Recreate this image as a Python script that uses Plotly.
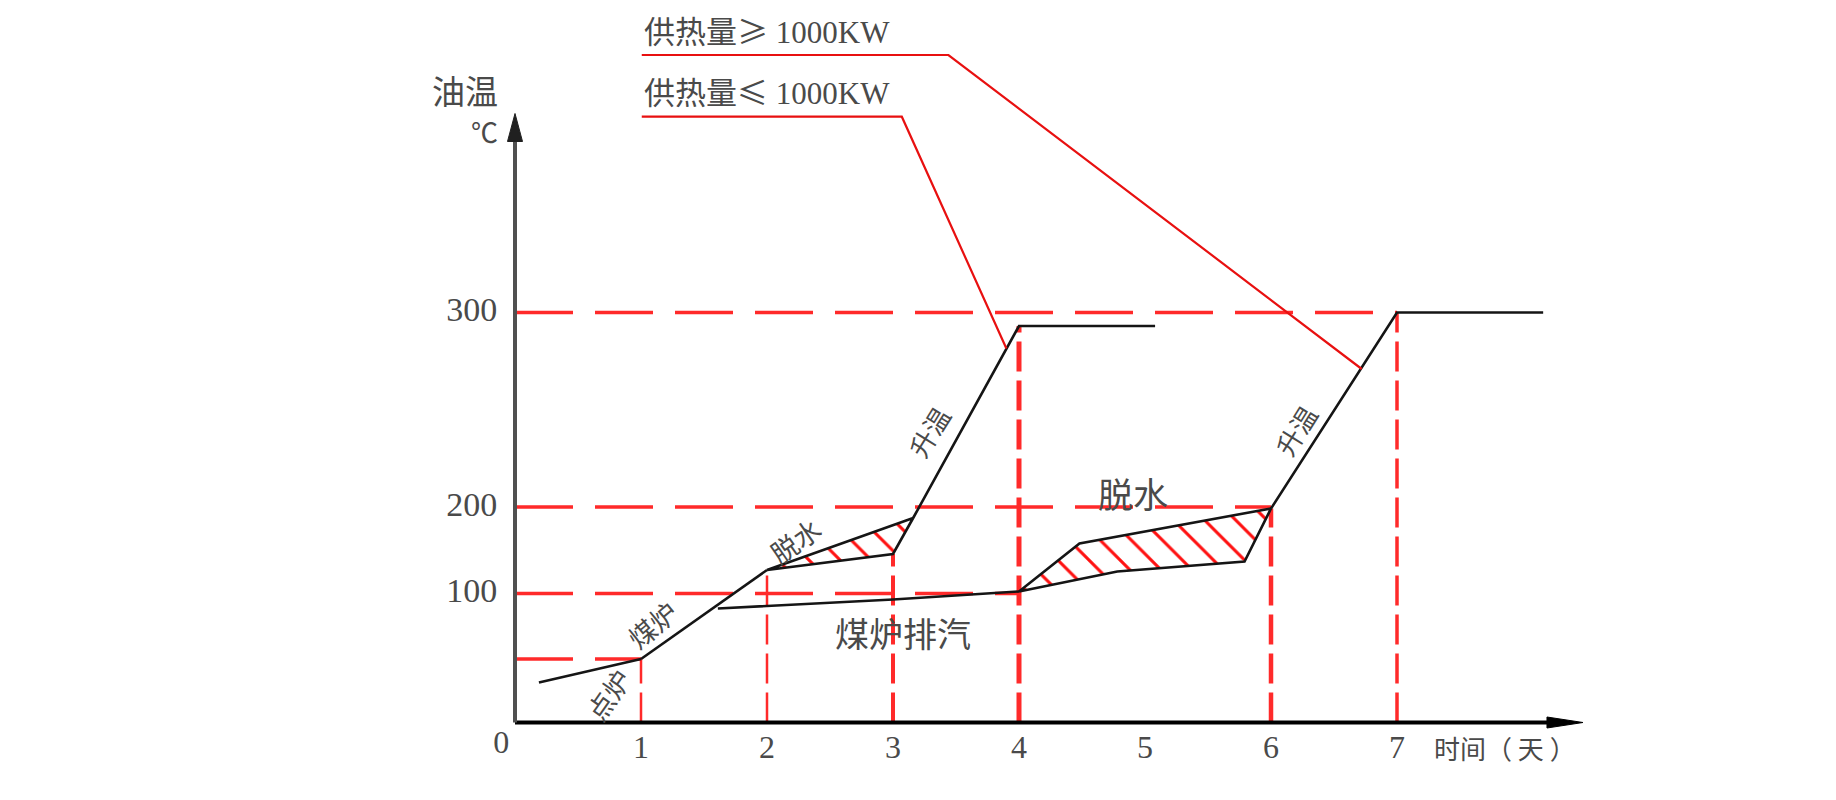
import plotly.graph_objects as go

# ---------------- data (schematic: x = days, y = drawing height of temperature levels) ----------------
day_ticks = [0, 1, 2, 3, 4, 5, 6, 7]
day_labels = ["0", "1", "2", "3", "4", "5", "6", "7"]
level_labels = ["100", "200", "300"]
level_pos = [129, 215.5, 410]
low_level = 63.5

ignite_x = [0.19, 1.0]
ignite_y = [40, 63.5]
coal_x = [1.0, 2.0]
coal_y = [63.5, 152.5]
dehyd1_x = [2.0, 3.16, 3.0, 2.13, 2.0]
dehyd1_y = [152.5, 204.5, 168.5, 154.5, 152.5]
heat1_x = [3.16, 4.0, 5.08]
heat1_y = [204.5, 396.5, 396.5]
exhaust_x = [1.61, 3.0, 4.0]
exhaust_y = [114, 123, 131]
dehyd2_x = [4.0, 4.48, 6.0, 5.79, 4.78, 4.0]
dehyd2_y = [131, 179, 214, 161, 151, 131]
heat2_x = [6.0, 7.0, 8.16]
heat2_y = [214, 410, 410]

lead_hi_x = [1.006, 3.44, 6.72]
lead_hi_y = [667.5, 667.5, 353.5]
lead_lo_x = [1.006, 3.07, 3.90]
lead_lo_y = [605.8, 605.8, 374]
lead_hi_cjk, lead_hi_num = "供热量≥", "1000KW"
lead_lo_cjk, lead_lo_num = "供热量≤", "1000KW"

hline_pos = [low_level, 129, 215.5, 410]
hline_end = [1, 4, 6, 7]
vline_days = [1, 2, 3, 4, 6, 7]
vline_top = [63.5, 152.5, 168.5, 396.5, 214, 410]
vline_width = [2.5, 2.5, 4, 5, 4.5, 3.5]

stage_labels = ["点炉", "煤炉", "脱水", "升温", "升温", "脱水", "煤炉排汽"]
stage_x = [0.74, 1.087, 2.22, 3.28, 6.19, 4.905, 3.08]
stage_y = [28, 98.5, 182.5, 291.5, 292.5, 230.5, 90.5]
stage_angle = [-55, -40, -35, -58, -58, 0, 0]
stage_size = [27, 27, 27, 26, 26, 35, 34]

x_axis_end = 8.476
y_axis_end = 609

# ---------------- styles ----------------
W, H = 1836, 800
X0_PX, Y0_PX, PX_PER_DAY = 515, 722.5, 126
RED = "#ff2a2a"
HATCH = "#ff1010"
LEAD = "#e81010"
BLACK = "#151515"
GREY_TXT = "#4a4a4a"
CJK = "Noto Sans CJK SC"
SERIF = "Liberation Serif"

fig = go.Figure()

def line(x, y, color, width, dash=None, **kw):
    fig.add_trace(go.Scatter(x=x, y=y, mode="lines", hoverinfo="skip", showlegend=False,
                             line=dict(color=color, width=width, dash=dash), **kw))

# dashed guide lines
for h, e in zip(hline_pos, hline_end):
    line([0, e], [h, h], RED, 3.5, "58px,22px")
for d, t, w in zip(vline_days, vline_top, vline_width):
    line([d, d], [0, t], RED, w, "30px,9px")

# hatched dehydration regions
for xs, ys in [(dehyd1_x, dehyd1_y), (dehyd2_x, dehyd2_y)]:
    fig.add_trace(go.Scatter(x=xs, y=ys, mode="lines", fill="toself", hoverinfo="skip", showlegend=False,
                             fillcolor="rgba(0,0,0,0)",
                             fillpattern=dict(shape="\\", fgcolor=HATCH, fgopacity=1, bgcolor="rgba(0,0,0,0)",
                                              size=22, solidity=0.14),
                             line=dict(color=BLACK, width=2.6)))

# black process curves
for xs, ys in [(ignite_x, ignite_y), (coal_x, coal_y), (heat1_x, heat1_y),
               (exhaust_x, exhaust_y), (heat2_x, heat2_y)]:
    line(xs, ys, BLACK, 2.6)

# red leader lines
line(lead_hi_x, lead_hi_y, LEAD, 2.2)
line(lead_lo_x, lead_lo_y, LEAD, 2.2)

# axes
line([0, x_axis_end - 0.2], [0, 0], "#000", 4)
line([0, 0], [0, y_axis_end - 20], "#505050", 4)
ux = 1.0 / PX_PER_DAY
fig.add_trace(go.Scatter(x=[x_axis_end, x_axis_end - 36 * ux, x_axis_end - 36 * ux, x_axis_end],
                         y=[0, 5.5, -5.5, 0], mode="lines", fill="toself", fillcolor="#000",
                         line=dict(color="#000", width=1), hoverinfo="skip", showlegend=False))
fig.add_trace(go.Scatter(x=[0, -7.5 * ux, 7.5 * ux, 0],
                         y=[y_axis_end, y_axis_end - 28, y_axis_end - 28, y_axis_end],
                         mode="lines", fill="toself", fillcolor="#202020",
                         line=dict(color="#202020", width=1), hoverinfo="skip", showlegend=False))

# tick labels
fig.add_trace(go.Scatter(x=[d if d else -0.11 for d in day_ticks], y=[-27 if d else -22 for d in day_ticks],
                         mode="text", text=day_labels, textfont=dict(family=SERIF, size=32, color=GREY_TXT),
                         hoverinfo="skip", showlegend=False))
fig.add_trace(go.Scatter(x=[-0.14] * len(level_pos), y=level_pos, mode="text", text=level_labels,
                         textposition="middle left", textfont=dict(family=SERIF, size=34, color=GREY_TXT),
                         hoverinfo="skip", showlegend=False))

def mixed(cjk, num):
    return cjk + "<span style='font-family:Liberation Serif'> " + num + "</span>"

ann = []
ann.append(dict(x=7.86, y=-24.5, text="时间（ 天 ）", font=dict(family=CJK, size=26, color=GREY_TXT)))
ann.append(dict(x=-0.4, y=632.5, text="油温", font=dict(family=CJK, size=33, color=GREY_TXT)))
ann.append(dict(x=-0.24, y=591.5, text="℃", font=dict(family=CJK, size=27, color=GREY_TXT)))
ann.append(dict(x=lead_hi_x[0], y=lead_hi_y[0] + 26, text=mixed(lead_hi_cjk, lead_hi_num), xanchor="left",
                font=dict(family=CJK, size=31, color=GREY_TXT)))
ann.append(dict(x=lead_lo_x[0], y=lead_lo_y[0] + 26, text=mixed(lead_lo_cjk, lead_lo_num), xanchor="left",
                font=dict(family=CJK, size=31, color=GREY_TXT)))
for t, x, y, a, s in zip(stage_labels, stage_x, stage_y, stage_angle, stage_size):
    ann.append(dict(x=x, y=y, text=t, textangle=a, font=dict(family=CJK, size=s, color=GREY_TXT)))
for a in ann:
    a.setdefault("showarrow", False)
    a.setdefault("xref", "x")
    a.setdefault("yref", "y")

fig.update_layout(
    width=W, height=H, autosize=False,
    margin=dict(l=0, r=0, t=0, b=0),
    paper_bgcolor="white", plot_bgcolor="white",
    xaxis=dict(range=[-X0_PX / PX_PER_DAY, (W - X0_PX) / PX_PER_DAY], visible=False, fixedrange=True),
    yaxis=dict(range=[Y0_PX - H, Y0_PX], visible=False, fixedrange=True),
    annotations=ann,
    showlegend=False,
)

fig.write_html("out.html", config={"displayModeBar": False},
               post_script="document.body.style.margin='0';document.body.style.overflow='hidden';")
